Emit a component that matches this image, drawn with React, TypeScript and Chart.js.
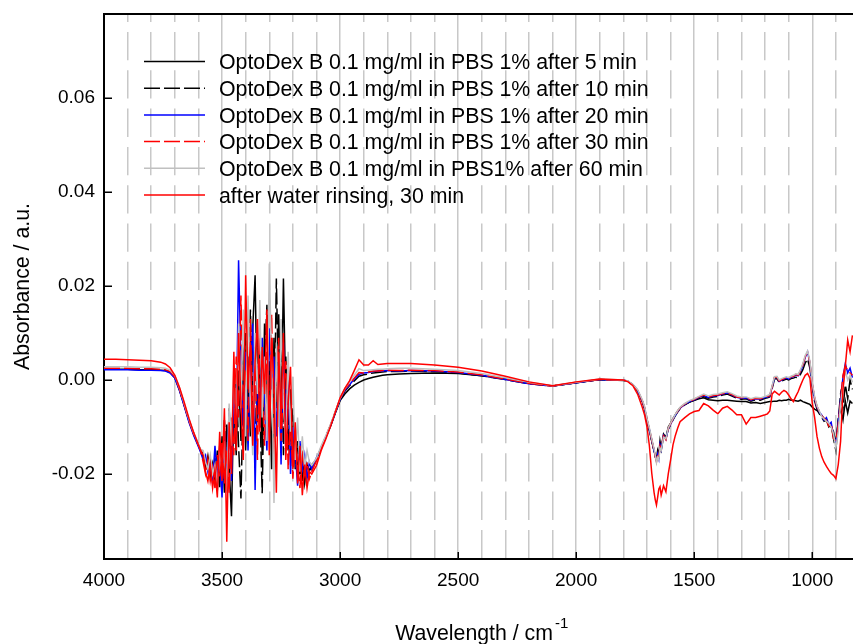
import React, { useEffect, useRef } from "react";
import { Chart, registerables } from "chart.js";

Chart.register(...registerables);

const FONT = "'Liberation Sans', Arial, Helvetica, sans-serif";

const wavenumbers = [
  4000, 3950, 3900, 3850, 3800, 3760, 3740, 3720, 3700, 3680, 3660, 3640, 3620, 3600, 3590,
  3580, 3570, 3560, 3550, 3540, 3530, 3520, 3510, 3500, 3490, 3480, 3470, 3460, 3450, 3440, 3430,
  3420, 3410, 3400, 3390, 3380, 3370, 3360, 3350, 3340, 3330, 3320, 3310, 3300, 3290, 3280, 3270,
  3260, 3250, 3240, 3230, 3220, 3210, 3200, 3190, 3180, 3170, 3160, 3150, 3140, 3130,
  3120, 3100, 3080, 3060, 3040, 3020, 3000, 2980, 2960, 2940, 2920, 2900, 2880, 2860, 2840, 2820, 2800,
  2750, 2700, 2600, 2500, 2400, 2300, 2200, 2100, 2000, 1900, 1850, 1800,
  1780, 1760, 1740, 1720, 1710, 1700, 1690, 1680, 1670, 1665, 1660, 1655, 1650, 1645, 1640, 1630,
  1620, 1610, 1600, 1590, 1580, 1570, 1560, 1540, 1520, 1500,
  1480, 1460, 1440, 1420, 1400, 1380, 1360, 1340, 1320, 1300, 1280, 1260, 1240, 1220, 1200,
  1190, 1180, 1170, 1160, 1150, 1140, 1130, 1120, 1110, 1100, 1090, 1080, 1070, 1060, 1050, 1040,
  1030, 1020, 1010, 1000, 990, 980, 970, 960, 950, 940, 930, 920, 910, 900, 890, 880, 870, 860, 850, 840, 830,
];

const absorb5min = [
  0.0023, 0.0023, 0.0023, 0.0022, 0.0022, 0.0021, 0.0020, 0.0016, 0.0005, -0.0022, -0.0055, -0.0088, -0.0116, -0.0140, -0.0152,
  -0.0165, -0.0182, -0.0170, -0.0205, -0.0178, -0.0215, -0.0150, -0.0228, -0.0120, -0.0240, -0.0095, -0.0185, -0.0290, -0.0040, -0.0160, 0.0020,
  -0.0130, 0.0080, -0.0150, 0.0050, -0.0120, 0.0110, 0.0223, -0.0090, 0.0060, -0.0160, 0.0120, -0.0080, 0.0040, -0.0190, 0.0090, -0.0060,
  0.0140, -0.0110, 0.0216, -0.0050, -0.0150, -0.0020, -0.0180, -0.0100, -0.0200, -0.0140, -0.0215, -0.0170, -0.0205, -0.0190,
  -0.0185, -0.0168, -0.0145, -0.0122, -0.0098, -0.0070, -0.0044, -0.0030, -0.0019, -0.0011, -0.0005, 0.0000, 0.0003, 0.0006, 0.0008, 0.0010, 0.0011,
  0.0013, 0.0014, 0.0015, 0.0014, 0.0009, 0.0002, -0.0007, -0.0013, -0.0006, 0.0001, 0.0000, 0.0000,
  -0.0003, -0.0010, -0.0023, -0.0046, -0.0062, -0.0087, -0.0108, -0.0130, -0.0152, -0.0160, -0.0168, -0.0150, -0.0160, -0.0130, -0.0145, -0.0115,
  -0.0122, -0.0100, -0.0092, -0.0082, -0.0074, -0.0066, -0.0059, -0.0052, -0.0047, -0.0043,
  -0.0040, -0.0038, -0.0042, -0.0043, -0.0044, -0.0043, -0.0043, -0.0044, -0.0045, -0.0046, -0.0046, -0.0049, -0.0048, -0.0050, -0.0048,
  -0.0047, -0.0046, -0.0046, -0.0045, -0.0045, -0.0043, -0.0044, -0.0043, -0.0043, -0.0041, -0.0043, -0.0043, -0.0044, -0.0045, -0.0043, -0.0046,
  -0.0048, -0.0050, -0.0052, -0.0058, -0.0062, -0.0065, -0.0070, -0.0076, -0.0082, -0.0088, -0.0094, -0.0100, -0.0110, -0.0135, -0.0085, -0.0060, -0.0085, -0.0045, -0.0070, -0.0045, -0.0050,
];

const absorb10min = [
  0.0024, 0.0024, 0.0024, 0.0023, 0.0023, 0.0022, 0.0021, 0.0017, 0.0006, -0.0020, -0.0053, -0.0086, -0.0114, -0.0138, -0.0150,
  -0.0158, -0.0190, -0.0162, -0.0198, -0.0210, -0.0165, -0.0235, -0.0140, -0.0200, -0.0085, -0.0215, -0.0060, -0.0175, -0.0100, 0.0010, -0.0140,
  -0.0252, -0.0030, 0.0100, -0.0110, 0.0150, -0.0040, -0.0170, 0.0090, -0.0060, -0.0241, 0.0030, 0.0160, -0.0070, 0.0080, -0.0130, 0.0216,
  -0.0030, 0.0100, -0.0160, 0.0050, -0.0080, -0.0160, -0.0060, -0.0190, -0.0130, -0.0205, -0.0160, -0.0220, -0.0180, -0.0200,
  -0.0180, -0.0170, -0.0143, -0.0120, -0.0096, -0.0068, -0.0042, -0.0024, -0.0012, -0.0002, 0.0008, 0.0011, 0.0013, 0.0015, 0.0016, 0.0017, 0.0018,
  0.0018, 0.0019, 0.0018, 0.0015, 0.0009, 0.0001, -0.0008, -0.0013, -0.0006, 0.0001, 0.0000, -0.0001,
  -0.0003, -0.0010, -0.0022, -0.0045, -0.0061, -0.0086, -0.0106, -0.0129, -0.0151, -0.0164, -0.0170, -0.0162, -0.0165, -0.0142, -0.0150, -0.0120,
  -0.0124, -0.0105, -0.0095, -0.0085, -0.0076, -0.0068, -0.0061, -0.0053, -0.0047, -0.0043,
  -0.0039, -0.0035, -0.0039, -0.0036, -0.0035, -0.0032, -0.0030, -0.0034, -0.0039, -0.0041, -0.0040, -0.0045, -0.0042, -0.0043, -0.0039,
  -0.0038, -0.0036, -0.0018, 0.0002, 0.0003, -0.0005, -0.0002, 0.0000, 0.0002, 0.0000, 0.0003, 0.0004, 0.0006, 0.0005, 0.0012, 0.0022,
  0.0036, 0.0045, 0.0025, -0.0015, -0.0045, -0.0062, -0.0072, -0.0080, -0.0088, -0.0085, -0.0100, -0.0095, -0.0125, -0.0150, -0.0085, -0.0030, -0.0060, -0.0010, -0.0040, 0.0000, -0.0020,
];

const absorb20min = [
  0.0022, 0.0022, 0.0022, 0.0021, 0.0021, 0.0020, 0.0019, 0.0015, 0.0004, -0.0023, -0.0056, -0.0090, -0.0118, -0.0142, -0.0155,
  -0.0170, -0.0160, -0.0195, -0.0175, -0.0220, -0.0140, -0.0205, -0.0170, -0.0250, -0.0110, -0.0190, -0.0070, -0.0215, -0.0020, -0.0120, 0.0255,
  0.0040, -0.0100, 0.0060, -0.0150, 0.0020, 0.0120, -0.0234, 0.0030, -0.0100, 0.0090, -0.0050, -0.0150, 0.0110, -0.0020, 0.0050, -0.0120,
  0.0030, -0.0180, 0.0080, -0.0090, 0.0020, -0.0200, -0.0100, -0.0150, -0.0225, -0.0130, -0.0190, -0.0160, -0.0210, -0.0175,
  -0.0190, -0.0165, -0.0146, -0.0121, -0.0097, -0.0069, -0.0041, -0.0022, -0.0010, 0.0002, 0.0012, 0.0015, 0.0016, 0.0018, 0.0019, 0.0019, 0.0020,
  0.0019, 0.0020, 0.0019, 0.0016, 0.0010, 0.0001, -0.0008, -0.0013, -0.0006, 0.0001, 0.0000, 0.0000,
  -0.0003, -0.0010, -0.0022, -0.0045, -0.0060, -0.0085, -0.0105, -0.0128, -0.0150, -0.0162, -0.0172, -0.0158, -0.0168, -0.0138, -0.0148, -0.0118,
  -0.0126, -0.0104, -0.0094, -0.0084, -0.0075, -0.0067, -0.0060, -0.0052, -0.0046, -0.0042,
  -0.0037, -0.0033, -0.0037, -0.0034, -0.0033, -0.0030, -0.0027, -0.0032, -0.0037, -0.0039, -0.0038, -0.0043, -0.0040, -0.0041, -0.0037,
  -0.0036, -0.0034, -0.0015, 0.0005, 0.0006, -0.0003, 0.0000, 0.0002, 0.0005, 0.0002, 0.0006, 0.0007, 0.0011, 0.0009, 0.0019, 0.0031,
  0.0048, 0.0060, 0.0036, -0.0010, -0.0040, -0.0058, -0.0068, -0.0075, -0.0085, -0.0080, -0.0095, -0.0090, -0.0120, -0.0135, -0.0090, -0.0040, 0.0005, 0.0035, 0.0015, 0.0025, 0.0005,
];

const absorb30min = [
  0.0025, 0.0025, 0.0025, 0.0024, 0.0024, 0.0023, 0.0022, 0.0018, 0.0007, -0.0020, -0.0053, -0.0087, -0.0115, -0.0139, -0.0151,
  -0.0175, -0.0200, -0.0168, -0.0215, -0.0185, -0.0230, -0.0160, -0.0205, -0.0130, -0.0220, -0.0150, -0.0240, -0.0080, -0.0160, 0.0050, -0.0080,
  0.0180, -0.0060, 0.0020, -0.0130, 0.0130, -0.0100, 0.0070, -0.0170, 0.0100, -0.0020, -0.0140, 0.0060, -0.0100, 0.0140, -0.0170, 0.0010,
  0.0090, -0.0130, -0.0030, 0.0040, -0.0190, -0.0080, -0.0210, -0.0120, -0.0180, -0.0230, -0.0150, -0.0200, -0.0175, -0.0210,
  -0.0195, -0.0172, -0.0144, -0.0119, -0.0095, -0.0067, -0.0040, -0.0020, -0.0008, 0.0004, 0.0016, 0.0015, 0.0017, 0.0019, 0.0019, 0.0020, 0.0021,
  0.0020, 0.0021, 0.0020, 0.0017, 0.0011, 0.0002, -0.0007, -0.0013, -0.0005, 0.0001, 0.0000, 0.0000,
  -0.0003, -0.0010, -0.0022, -0.0044, -0.0059, -0.0084, -0.0104, -0.0127, -0.0149, -0.0163, -0.0174, -0.0160, -0.0166, -0.0140, -0.0146, -0.0119,
  -0.0127, -0.0103, -0.0093, -0.0083, -0.0074, -0.0066, -0.0059, -0.0051, -0.0045, -0.0041,
  -0.0036, -0.0032, -0.0036, -0.0033, -0.0032, -0.0029, -0.0028, -0.0031, -0.0036, -0.0038, -0.0037, -0.0042, -0.0039, -0.0040, -0.0036,
  -0.0035, -0.0033, -0.0014, 0.0006, 0.0006, -0.0002, 0.0001, 0.0003, 0.0005, 0.0003, 0.0007, 0.0008, 0.0012, 0.0010, 0.0020, 0.0032,
  0.0050, 0.0059, 0.0037, -0.0008, -0.0038, -0.0056, -0.0067, -0.0076, -0.0082, -0.0086, -0.0098, -0.0092, -0.0125, -0.0130, -0.0095, -0.0045, 0.0010, 0.0030, 0.0020, 0.0015, 0.0010,
];

const absorb60min = [
  0.0028, 0.0028, 0.0028, 0.0027, 0.0027, 0.0026, 0.0025, 0.0021, 0.0010, -0.0017, -0.0050, -0.0084, -0.0112, -0.0136, -0.0148,
  -0.0150, -0.0175, -0.0190, -0.0160, -0.0200, -0.0180, -0.0225, -0.0155, -0.0190, -0.0130, -0.0240, -0.0050, -0.0140, 0.0030, -0.0100, 0.0120,
  -0.0060, 0.0150, -0.0120, 0.0180, -0.0050, -0.0160, 0.0100, -0.0030, 0.0170, -0.0080, 0.0050, -0.0130, 0.0248, 0.0040, -0.0262, 0.0080,
  -0.0100, 0.0130, -0.0050, -0.0140, 0.0060, -0.0110, 0.0007, -0.0170, -0.0080, -0.0195, -0.0120, -0.0185, -0.0150, -0.0175,
  -0.0182, -0.0166, -0.0140, -0.0118, -0.0094, -0.0066, -0.0039, -0.0018, -0.0004, 0.0010, 0.0024, 0.0020, 0.0021, 0.0022, 0.0023, 0.0023, 0.0024,
  0.0025, 0.0025, 0.0023, 0.0020, 0.0014, 0.0005, -0.0005, -0.0012, -0.0005, 0.0002, 0.0001, 0.0000,
  -0.0002, -0.0009, -0.0020, -0.0042, -0.0057, -0.0082, -0.0102, -0.0125, -0.0147, -0.0160, -0.0176, -0.0165, -0.0170, -0.0145, -0.0150, -0.0122,
  -0.0125, -0.0102, -0.0092, -0.0082, -0.0073, -0.0065, -0.0058, -0.0050, -0.0044, -0.0040,
  -0.0035, -0.0030, -0.0034, -0.0031, -0.0030, -0.0027, -0.0025, -0.0029, -0.0034, -0.0036, -0.0036, -0.0040, -0.0037, -0.0038, -0.0035,
  -0.0033, -0.0031, -0.0012, 0.0007, 0.0008, 0.0000, 0.0003, 0.0005, 0.0007, 0.0005, 0.0008, 0.0010, 0.0013, 0.0012, 0.0022, 0.0035,
  0.0052, 0.0062, 0.0040, -0.0006, -0.0036, -0.0055, -0.0066, -0.0078, -0.0083, -0.0088, -0.0092, -0.0100, -0.0115, -0.0145, -0.0110, -0.0050, -0.0015, 0.0020, 0.0000, 0.0010, -0.0005,
];

const absorbRinsed = [
  0.0044, 0.0044, 0.0043, 0.0042, 0.0041, 0.0038, 0.0034, 0.0026, 0.0010, -0.0016, -0.0048, -0.0082, -0.0112, -0.0138, -0.0150,
  -0.0160, -0.0195, -0.0215, -0.0180, -0.0230, -0.0190, -0.0250, -0.0110, -0.0215, -0.0060, -0.0344, -0.0090, -0.0200, 0.0060, -0.0150, 0.0100,
  -0.0050, -0.0170, 0.0223, -0.0020, 0.0080, -0.0140, 0.0040, 0.0130, -0.0110, 0.0070, -0.0030, 0.0150, -0.0160, 0.0090, -0.0010, -0.0240,
  0.0060, -0.0080, 0.0100, -0.0170, -0.0050, 0.0028, -0.0190, -0.0090, -0.0220, -0.0140, -0.0245, -0.0180, -0.0230, -0.0195,
  -0.0200, -0.0182, -0.0150, -0.0125, -0.0098, -0.0068, -0.0038, -0.0018, -0.0002, 0.0020, 0.0043, 0.0032, 0.0032, 0.0041, 0.0033, 0.0034, 0.0035,
  0.0035, 0.0035, 0.0032, 0.0027, 0.0019, 0.0008, -0.0004, -0.0012, -0.0004, 0.0002, 0.0001, 0.0000,
  -0.0004, -0.0012, -0.0030, -0.0058, -0.0075, -0.0100, -0.0140, -0.0198, -0.0240, -0.0255, -0.0266, -0.0250, -0.0232, -0.0227, -0.0245, -0.0225,
  -0.0238, -0.0200, -0.0170, -0.0138, -0.0118, -0.0102, -0.0089, -0.0080, -0.0072, -0.0067,
  -0.0065, -0.0050, -0.0055, -0.0064, -0.0072, -0.0060, -0.0056, -0.0064, -0.0074, -0.0074, -0.0094, -0.0080, -0.0080, -0.0077, -0.0074,
  -0.0072, -0.0066, -0.0030, -0.0024, -0.0028, -0.0032, -0.0026, -0.0022, -0.0025, -0.0032, -0.0040, -0.0046, -0.0035, -0.0025, -0.0012, 0.0000,
  0.0010, 0.0014, 0.0004, -0.0050, -0.0080, -0.0120, -0.0145, -0.0163, -0.0175, -0.0184, -0.0192, -0.0199, -0.0203, -0.0210, -0.0180, -0.0130, -0.0020, 0.0030, 0.0085, 0.0060, 0.0095,
];

const seriesLabels = [
  "OptoDex B 0.1 mg/ml in PBS 1% after 5 min",
  "OptoDex B 0.1 mg/ml in PBS 1% after 10 min",
  "OptoDex B 0.1 mg/ml in PBS 1% after 20 min",
  "OptoDex B 0.1 mg/ml in PBS 1% after 30 min",
  "OptoDex B 0.1 mg/ml in PBS1% after 60 min",
  "after water rinsing, 30 min",
];
const seriesValues = [absorb5min, absorb10min, absorb20min, absorb30min, absorb60min, absorbRinsed];
const seriesColors = ["#000000", "#000000", "#0000ff", "#ff0000", "#c0c0c0", "#ff0000"];
const seriesDashes = [[], [16, 4], [], [16, 4], [], []];

const xGridValues = [
  4000, 3900, 3800, 3700, 3600, 3500, 3400, 3300, 3200, 3100, 3000, 2900, 2800, 2700, 2600, 2500, 2400,
  2300, 2200, 2100, 2000, 1900, 1800, 1700, 1600, 1500, 1400, 1300, 1200, 1100, 1000, 900, 800,
];
const xLabelValues = [4000, 3500, 3000, 2500, 2000, 1500, 1000];
const yTickValues = [-0.02, 0, 0.02, 0.04, 0.06];

const xTitle = "Wavelength / cm";
const xTitleSup = "-1";
const yTitle = "Absorbance / a.u.";

const decorPlugin = {
  id: "decor",
  afterDatasetsDraw(chart: any) {
    const { ctx, chartArea, scales } = chart;
    ctx.save();
    // top frame
    ctx.strokeStyle = "#000";
    ctx.lineWidth = 2;
    ctx.beginPath();
    ctx.moveTo(chartArea.left - 1, chartArea.top);
    ctx.lineTo(chartArea.right + 1, chartArea.top);
    ctx.stroke();
    // inward ticks
    ctx.lineWidth = 1.5;
    ctx.beginPath();
    for (const v of yTickValues) {
      const y = Math.round(scales.y.getPixelForValue(v)) + 0.25;
      ctx.moveTo(chartArea.left, y);
      ctx.lineTo(chartArea.left + 8, y);
    }
    for (const v of xLabelValues) {
      const x = Math.round(scales.x.getPixelForValue(v)) + 0.25;
      ctx.moveTo(x, chartArea.bottom);
      ctx.lineTo(x, chartArea.bottom - 7);
    }
    ctx.stroke();
    ctx.restore();
  },
  afterDraw(chart: any) {
    const { ctx, chartArea } = chart;
    ctx.save();
    // legend
    ctx.font = `21.3px ${FONT}`;
    ctx.textBaseline = "alphabetic";
    ctx.textAlign = "left";
    seriesLabels.forEach((label, i) => {
      const y = 61.5 + i * 26.7;
      ctx.beginPath();
      ctx.setLineDash(seriesDashes[i]);
      ctx.lineDashOffset = 0;
      ctx.strokeStyle = seriesColors[i];
      ctx.lineWidth = 1.5;
      ctx.moveTo(144, y);
      ctx.lineTo(205, y);
      ctx.stroke();
      ctx.setLineDash([]);
      ctx.fillStyle = "#000";
      ctx.fillText(label, 219, y + 7.7);
    });
    // x title with superscript
    ctx.font = `21.3px ${FONT}`;
    const w1 = ctx.measureText(xTitle).width;
    ctx.font = `15px ${FONT}`;
    const w2 = ctx.measureText(xTitleSup).width;
    const cx = (chartArea.left + chartArea.right) / 2;
    const x0 = cx - (w1 + 2 + w2) / 2;
    ctx.fillStyle = "#000";
    ctx.font = `21.3px ${FONT}`;
    ctx.fillText(xTitle, x0, 640);
    ctx.font = `15px ${FONT}`;
    ctx.fillText(xTitleSup, x0 + w1 + 2, 628);
    ctx.restore();
  },
};

export default function App() {
  const canvasRef = useRef<HTMLCanvasElement | null>(null);

  useEffect(() => {
    const canvas = canvasRef.current;
    if (!canvas) return;
    const datasets = seriesLabels.map((label, i) => ({
      label,
      data: seriesValues[i].map((y, k) => ({ x: wavenumbers[k], y })),
      borderColor: seriesColors[i],
      backgroundColor: seriesColors[i],
      borderDash: seriesDashes[i],
      borderWidth: 1.5,
      pointRadius: 0,
      pointHoverRadius: 0,
      tension: 0,
      fill: false,
      order: 5 - i,
    }));

    const chart = new Chart(canvas, {
      type: "line",
      data: { datasets },
      plugins: [decorPlugin],
      options: {
        responsive: false,
        animation: false,
        devicePixelRatio: 1,
        events: [],
        layout: { padding: { top: 14, right: 10.5, left: 0, bottom: 0 } },
        plugins: {
          legend: { display: false },
          tooltip: { enabled: false },
          title: { display: false },
        },
        scales: {
          x: {
            type: "linear",
            reverse: true,
            min: 800,
            max: 4000,
            afterBuildTicks: (scale: any) => {
              scale.ticks = xGridValues.map((v) => ({ value: v }));
            },
            afterFit: (scale: any) => {
              scale.height = 85;
              scale.paddingLeft = 0;
              scale.paddingRight = 0;
            },
            ticks: {
              autoSkip: false,
              maxRotation: 0,
              minRotation: 0,
              padding: 10,
              color: "#000",
              font: { family: FONT, size: 19 },
              callback: (value: any) => (xLabelValues.includes(Number(value)) ? String(value) : ""),
            },
            grid: {
              display: true,
              drawTicks: false,
              color: "#c8c8c8",
              lineWidth: 1.5,
            },
            border: {
              display: true,
              color: "#000",
              width: 2,
              dash: (ctx: any) => (ctx.tick && Number(ctx.tick.value) % 500 !== 0 ? [28.3, 10] : []),
              dashOffset: 20.3,
            },
            title: { display: false },
          },
          y: {
            type: "linear",
            min: -0.0381,
            max: 0.0779,
            afterBuildTicks: (scale: any) => {
              scale.ticks = yTickValues.map((v) => ({ value: v }));
            },
            afterFit: (scale: any) => {
              scale.width = 104;
              scale.paddingTop = 0;
              scale.paddingBottom = 0;
            },
            ticks: {
              padding: 9,
              color: "#000",
              font: { family: FONT, size: 19 },
              callback: (value: any) => Number(value).toFixed(2),
            },
            grid: { display: false, drawTicks: false },
            border: { display: true, color: "#000", width: 2 },
            title: {
              display: true,
              text: yTitle,
              color: "#000",
              font: { family: FONT, size: 21.3 },
              padding: { top: 10, bottom: 0 },
            },
          },
        },
      },
    });
    return () => chart.destroy();
  }, []);

  return (
    <div
      style={{
        position: "fixed",
        left: 0,
        top: 0,
        width: 853,
        height: 644,
        overflow: "hidden",
        background: "#ffffff",
      }}
    >
      <canvas ref={canvasRef} width={870} height={644} style={{ display: "block", width: 870, height: 644 }} />
    </div>
  );
}
